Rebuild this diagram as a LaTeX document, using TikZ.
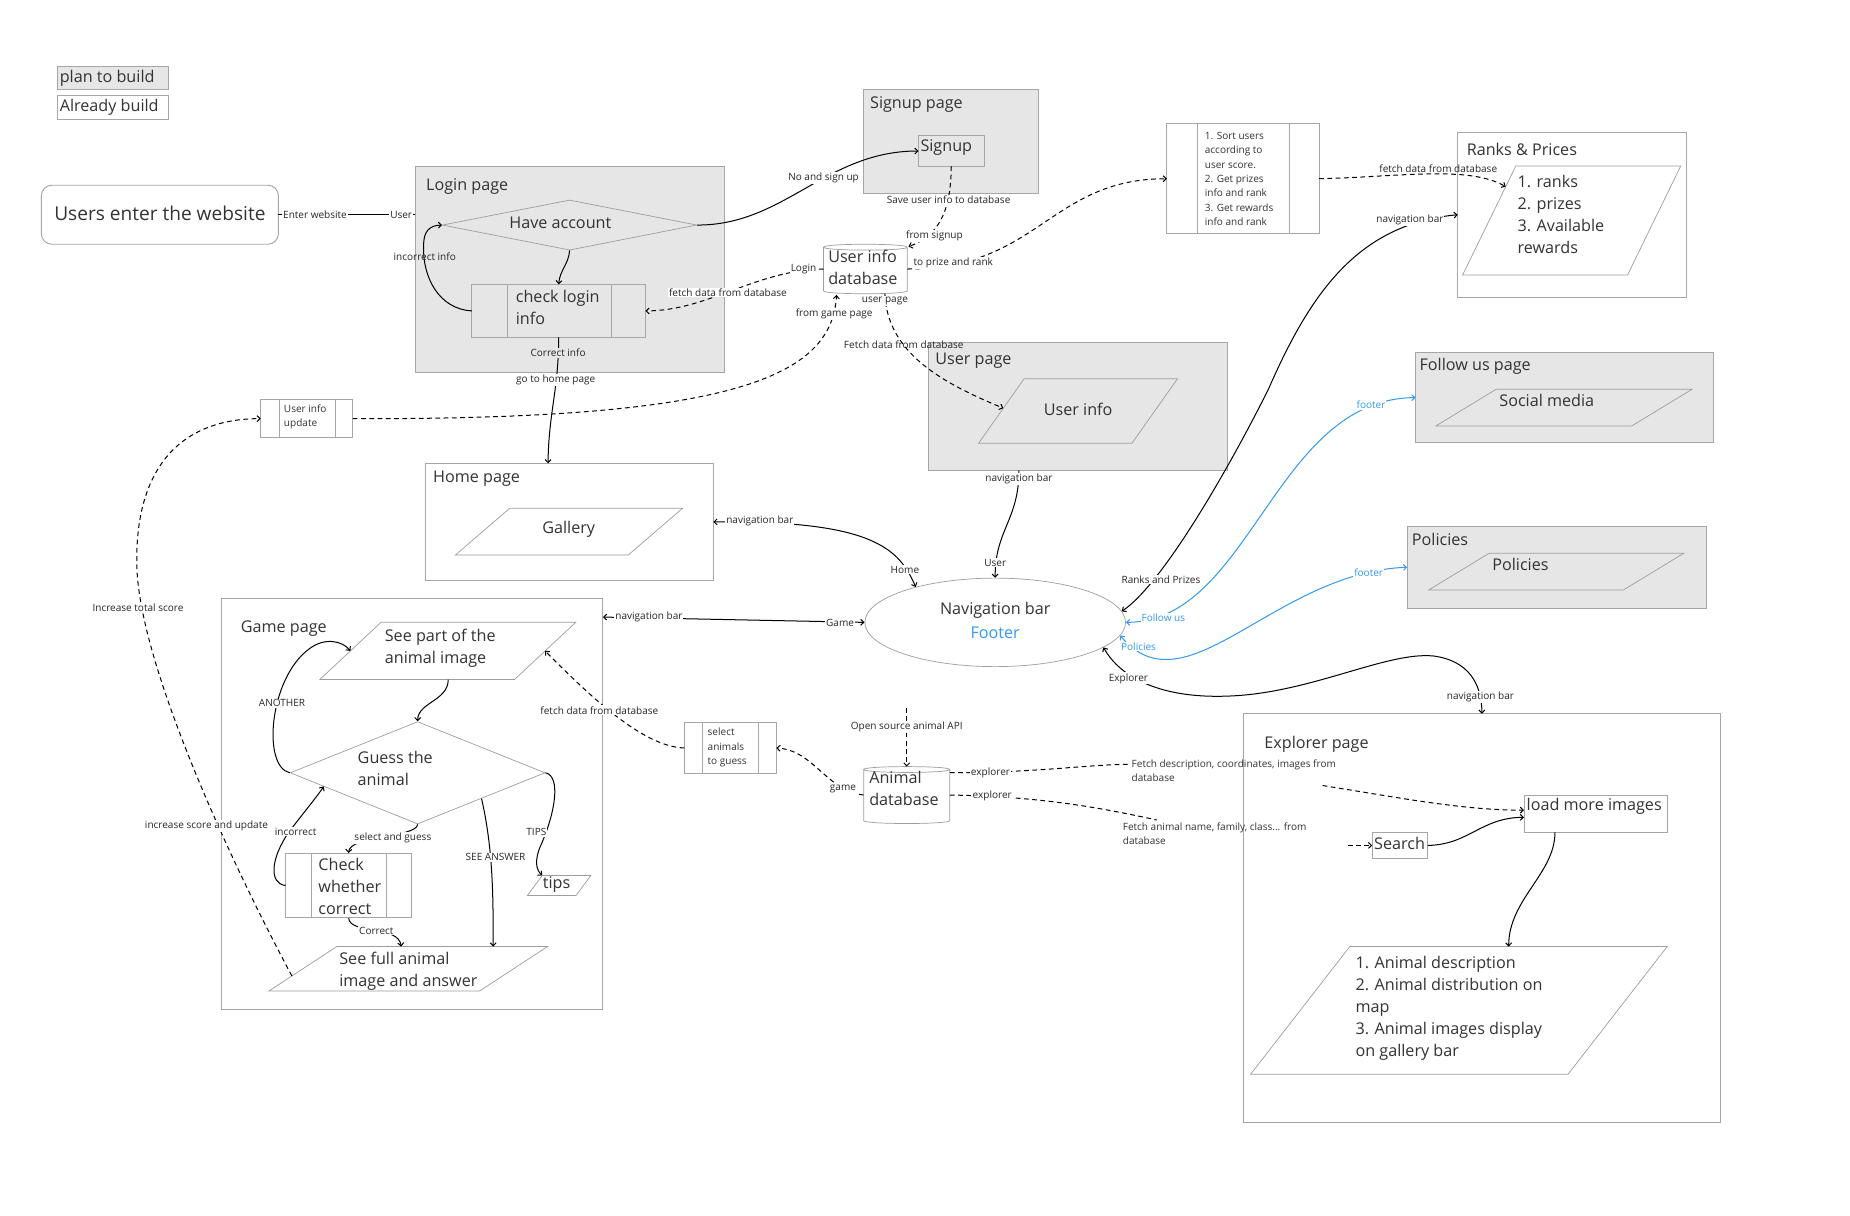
\documentclass[tikz,border=0pt]{standalone}
\usepackage{fontspec}
\setmainfont{Open Sans}
\usetikzlibrary{shapes.geometric,arrows.meta,calc}
\definecolor{pg}{HTML}{E6E6E6}
\definecolor{bd}{HTML}{A6A6A6}
\definecolor{sh}{HTML}{9E9E9E}
\definecolor{tx}{HTML}{333333}
\definecolor{ft}{HTML}{3399F3}
\tikzset{
 rbox/.style={draw=bd, line width=0.8pt, inner sep=0pt, outer sep=0pt, anchor=north west},
 pgbox/.style={rbox, fill=pg},
 wbox/.style={rbox, fill=white},
 shp/.style={draw=sh, line width=0.6pt},
 big/.style={font=\fontsize{13.7}{18.7}\selectfont, text=tx, inner sep=0pt, align=left},
 small/.style={font=\fontsize{8.5}{12.2}\selectfont, text=tx, inner sep=0pt, align=left},
 lbl/.style={font=\fontsize{8.5}{11}\selectfont, text=black!85, inner sep=0.8pt, fill=white},
 conn/.style={line width=0.85pt, draw=black},
 arr/.style={conn, -{Straight Barb[length=2.6pt,width=5pt]}},
 barr/.style={conn, {Straight Barb[length=2.6pt,width=5pt]}-{Straight Barb[length=2.6pt,width=5pt]}},
 dsh/.style={dash pattern=on 4pt off 3pt},
 darr/.style={arr, dsh},
}
\newcommand\mkrect[6]{\node[#2, minimum width={(#5-#3)*1pt}, minimum height={(#6-#4)*1pt}] (#1) at (#3,#4) {};}
\newcommand\mkproc[8]{\mkrect{#1}{#2}{#3}{#4}{#5}{#6}\draw[draw=bd,line width=0.8pt] (#7,#4) -- (#7,#6) (#8,#4) -- (#8,#6);}
\newcommand\mkcyl[5]{\node[inner sep=0pt, outer sep=0pt, minimum width={(#4-#2)*1pt}, minimum height={(#5-#3)*1pt}, anchor=north west] (#1) at (#2,#3) {};
 \draw[shp, fill=white] (#2,#3+2.5) -- (#2,#5-2.5) .. controls (#2,#5+0.8) and (#4,#5+0.8) .. (#4,#5-2.5) -- (#4,#3+2.5) .. controls (#4,#3-0.8) and (#2,#3-0.8) .. (#2,#3+2.5) .. controls (#2,#3+5.8) and (#4,#3+5.8) .. (#4,#3+2.5);}
\newcommand\mkpara[7]{\coordinate (#1-tl) at (#2,#4); \coordinate (#1-tr) at (#3,#4);
 \coordinate (#1-bl) at (#5,#6); \coordinate (#1-br) at (#5+#3-#2,#6);
 \draw[shp, fill=#7] (#1-tl) -- (#1-tr) -- (#1-br) -- (#1-bl) -- cycle;}
\begin{document}
\begin{tikzpicture}[x=1pt,y=-1pt]
\useasboundingbox (0,0) rectangle (1568,1030);
\fill[white] (0,0) rectangle (1568,1030);

% ---------- containers ----------
\mkrect{plan}{pgbox}{49}{56}{143}{76}
\mkrect{already}{wbox}{49}{81}{143}{101}
\mkrect{users}{wbox,rounded corners=9pt}{35}{157}{236}{207}
\mkrect{login}{pgbox}{352}{141}{614}{316}
\mkrect{signup}{pgbox}{732}{76}{880}{164}
\mkrect{sgn}{pgbox}{778.5}{115}{834}{141}
\mkproc{sort}{wbox}{989}{105}{1118}{198}{1015}{1092.5}
\mkrect{ranks}{wbox}{1235.5}{112}{1429}{252}
\mkrect{userpage}{pgbox}{787}{290}{1040}{398.6}
\mkrect{follow}{pgbox}{1199.7}{299}{1452.6}{375}
\mkrect{policies}{pgbox}{1192.6}{445.8}{1446}{515.8}
\mkrect{home}{wbox}{361}{392.7}{604.6}{492}
\mkproc{uiupd}{wbox}{221}{339}{299}{370.6}{236.5}{284}
\mkrect{game}{wbox}{187.6}{507}{511}{855.4}
\mkrect{explorer}{wbox}{1054}{605}{1458}{951}

% ---------- inner shapes ----------
\node[diamond, shp, fill=pg, minimum width=215.6pt, minimum height=42.5pt, inner sep=0pt] (hav) at (482.8,190.75) {};
\mkproc{chk}{pgbox}{400}{241}{547}{286}{430}{518}
\mkcyl{udb}{698}{207}{769}{249}
\mkpara{ranksP}{1284.7}{1424.5}{140.7}{1239.7}{233}{white}
\mkpara{userP}{868}{998}{321}{829.4}{375.7}{pg}
\mkpara{followP}{1268}{1434}{330}{1217}{361}{pg}
\mkpara{policiesP}{1262}{1427}{469}{1211}{500}{pg}
\mkpara{galleryP}{432}{578.5}{430.8}{386}{470.4}{white}
\node[ellipse, shp, fill=white, minimum width=221pt, minimum height=75pt, inner sep=0pt] (nav) at (843.5,527.5) {};
\mkpara{seeP}{323}{488}{527.4}{271}{576}{white}
\node[diamond, shp, fill=white, minimum width=216pt, minimum height=86.8pt, inner sep=0pt] (guess) at (354,655) {};
\mkproc{checkwc}{wbox}{242}{723}{349}{778}{264}{327.6}
\mkpara{tipsP}{459.6}{500.8}{742}{447}{759}{white}
\mkpara{fullP}{285.4}{464}{802.3}{227.8}{840}{white}
\mkproc{select}{wbox}{580}{612.5}{658}{655.4}{595.6}{643}
\mkcyl{adb}{732}{649.7}{805}{698}
\mkrect{loadmore}{wbox}{1291.7}{674.6}{1413}{705.4}
\mkrect{search}{wbox}{1163}{705.7}{1210}{727.4}
\mkpara{descP}{1144}{1413}{802.3}{1060}{910.5}{white}

% ---------- texts ----------
\node[big, anchor=west] (tplan) at (50.5,66) {plan to build};
\node[big, anchor=west] (tall) at (50.5,91) {Already build};
\node[font=\fontsize{16.2}{20}\selectfont, text=tx, inner sep=0pt] (tusers) at (135.5,181) {Users enter the website};
\node[big, anchor=west] (tlogin) at (361,158) {Login page};
\node[big, anchor=west] (thav) at (431.5,189) {Have account};
\node[big, anchor=north west] (tchk) at (437,245.5) {check login\\info};
\node[big, anchor=west] (tsignup) at (737.3,88.4) {Signup page};
\node[big, anchor=west] (tsgn) at (780,125) {Signup};
\node[big, anchor=north west] (tudb) at (701.8,212) {User info\\database};
\node[small, anchor=north west] (tsort) at (1021,111.7) {1. Sort users\\according to\\user score.\\2. Get prizes\\info and rank\\3. Get rewards\\info and rank};
\node[big, anchor=west] (tranks) at (1243,127) {Ranks \& Prices};
\node[big, anchor=north west] (tranksP) at (1286,148.5) {1. ranks\\2. prizes\\3. Available\\rewards};
\node[big, anchor=west] (tuserpage) at (792.6,306) {User page};
\node[big] (tuserP) at (913.8,347) {User info};
\node[big, anchor=west] (tfollow) at (1203,310.7) {Follow us page};
\node[big] (tfollowP) at (1311,339) {Social media};
\node[big, anchor=west] (tpolicies) at (1196.5,457) {Policies};
\node[big] (tpoliciesP) at (1288.7,478) {Policies};
\node[big, anchor=west] (thome) at (367,406) {Home page};
\node[big] (tgallery) at (482,449) {Gallery};
\node[small, anchor=north west] (tuiupd) at (240.5,342.7) {User info\\update};
\node[big] (tnav) at (843.5,517) {Navigation bar};
\node[big, text=ft] (tfooter) at (843.5,536) {Footer};
\node[big, anchor=west] (tgame) at (204,533) {Game page};
\node[big, anchor=north west] (tseeP) at (326,533) {See part of the\\animal image};
\node[big, anchor=north west] (tguess) at (303,636.5) {Guess the\\animal};
\node[big, anchor=north west] (tcheckwc) at (269.7,727.5) {Check\\whether\\correct};
\node[big] (ttips) at (471.7,749.5) {tips};
\node[big, anchor=north west] (tfullP) at (287.4,806.5) {See full animal\\image and answer};
\node[small, anchor=north west] (tselect) at (599.6,617.1) {select\\animals\\to guess};
\node[big, anchor=north west] (tadb) at (736.6,653.5) {Animal\\database};
\node[big, anchor=west] (texplorer) at (1071.5,631) {Explorer page};
\node[big, anchor=west] (tloadmore) at (1293.8,683.5) {load more images};
\node[big, anchor=west] (tsearch) at (1164.5,715) {Search};
\node[big, anchor=north west] (tdescP) at (1148.7,810.1) {1. Animal description\\2. Animal distribution on\\map\\3. Animal images display\\on gallery bar};
\node[small, anchor=north west] (fd1) at (959,643.8) {Fetch description, coordinates, images from\\database};
\node[small, anchor=north west] (fd2) at (951.5,697) {Fetch animal name, family, class... from\\database};

% ---------- connectors ----------
\draw[conn] (users.east) -- ($(login.north west)+(0,41)$);
\draw[arr] (hav.south) .. controls +(-1,12) and +(1,-12) .. (chk.north);
\draw[arr] (chk.west) .. controls (372,262) and (358,235) .. (359,208) .. controls (359,196) and (364,191) .. (hav.west);
\draw[arr] (chk.south) .. controls (473.5,330) and (465,350) .. ($(home.north)+(-18.3,0)$);
\draw[arr] (hav.east) .. controls (665,191) and (700,128) .. (sgn.west);
\draw[darr] (sgn.south) .. controls (806,180) and (795,200) .. ($(udb.north east)+(1,2)$);
\draw[darr] (udb.west) .. controls (640,229) and (600,263.5) .. (chk.east);
\draw[darr] (udb.east) .. controls (880,228) and (890,151.5) .. (sort.west);
\draw[darr] ($(udb.south)+(16.5,0)$) .. controls (752,300) and (800,325) .. ($(userP-tl)!0.457!(userP-bl)$);
\draw[darr] (uiupd.east) .. controls (620,356) and (705,320) .. ($(udb.south)+(-24.5,1)$);
\draw[darr] (sort.east) .. controls (1185,150) and (1245,140) .. ($(ranksP-tl)!0.19!(ranksP-bl)$);
\draw[barr] (nav.5) .. controls (985,495) and (1040,400) .. (1075,330) .. controls (1110,250) and (1150,190) .. (ranks.west);
\draw[barr, draw=ft] (nav.east) .. controls (1060,527) and (1080,338) .. (follow.west);
\draw[barr, draw=ft] (nav.-6) .. controls (1005,605) and (1080,485) .. (policies.west);
\draw[barr] (nav.-13) .. controls (950,575) and (985,592) .. (1040,590) .. controls (1110,588) and (1175,552) .. (1215,556) .. controls (1245,560) and (1256,580) .. (explorer.north);
\draw[arr] ($(userpage.south)+(-50,0)$) .. controls (864,440) and (843,450) .. (nav.north);
\draw[barr] (home.east) .. controls (740,441) and (762,465) .. (nav.156);
\draw[barr] ($(game.north east)+(0,16)$) -- (nav.west);
\draw[arr] ($(seeP-bl)!0.66!(seeP-br)$) .. controls +(0,18) and +(0,-16) .. (guess.north);
\draw[arr] (guess.west) .. controls (222,650) and (228,575) .. (262,550) .. controls (275,540) and (290,543) .. ($(seeP-tl)!0.5!(seeP-bl)$);
\draw[arr] (checkwc.west) .. controls (228,749) and (229,728) .. (245,705) .. controls (258,688) and (268,676) .. ($(guess.west)!0.265!(guess.south)$);
\draw[arr] (guess.south) .. controls (353,710) and (296,708) .. (checkwc.north);
\draw[arr] (checkwc.south) .. controls (296,792) and (338,784) .. ($(fullP-tl)+(54.6,0)$);
\draw[arr] ($(guess.east)!0.5!(guess.south)$) .. controls (418,720) and (418,760) .. ($(fullP-tl)+(132.6,0)$);
\draw[arr] (guess.east) .. controls (476,658) and (470,690) .. (459,715) .. controls (452,730) and (455,738) .. (tipsP-tl);
\draw[darr] ($(fullP-tl)!0.66!(fullP-bl)$) .. controls (190,720) and (118,560) .. (116,480) .. controls (114,400) and (150,355) .. (uiupd.west);
\draw[darr] (select.west) .. controls (545,633) and (500,590) .. ($(seeP-tr)!0.5!(seeP-br)$);
\draw[darr] (adb.west) .. controls (700,670) and (690,636) .. (select.east);
\coordinate (apiSrc) at (768.5,600);
\draw[darr] (apiSrc) -- (adb.north);
\draw[conn, dsh] ($(adb.east)+(0,-19)$) .. controls (880,655) and (920,648) .. ($(fd1.north west)+(-2,4)$);
\draw[darr] ($(fd1.north west)+(162,22)$) .. controls (1180,675) and (1240,687) .. ($(loadmore.west)+(0,-3.4)$);
\draw[conn, dsh] (adb.east) .. controls (880,675) and (930,684) .. ($(fd2.north west)+(29,-2)$);
\draw[darr] ($(search.west)+(-20.6,0)$) -- (search.west);
\draw[arr] (search.east) .. controls (1245,716) and (1255,693) .. ($(loadmore.west)+(0,2.7)$);
\draw[arr] ($(loadmore.south)+(-34.4,0)$) .. controls +(0,35) and +(0,-40) .. ($(descP-tl)+(134.7,0)$);

% ---------- connector labels ----------
\node[lbl] (lEnter) at (267,182) {Enter website};
\node[lbl] (lUser) at (340,182) {User};
\node[lbl, fill=none] (lInc) at (360,218) {incorrect info};
\node[lbl, fill=pg] (lCorr) at (473,299) {Correct info};
\node[lbl] (lGoHome) at (471,322) {go to home page};
\node[lbl] (lNoSign) at (698,151) {No and sign up};
\node[lbl] (lSave) at (804,169.5) {Save user info to database};
\node[lbl] (lFromS) at (792,200) {from signup};
\node[lbl] (lLogin) at (681,228) {Login};
\node[lbl] (lFetch1) at (617,248) {fetch data from database};
\node[lbl] (lPrize) at (808,223) {to prize and rank};
\node[lbl] (lUP) at (750,255) {user page};
\node[lbl] (lFromG) at (707,266) {from game page};
\node[lbl, fill=none] (lFetch2) at (766,292.5) {Fetch data from database};
\node[lbl, fill=none] (lFetch3) at (1219,143) {fetch data from database};
\node[lbl] (lNavR) at (1195,186.5) {navigation bar};
\node[lbl] (lRP) at (984,491) {Ranks and Prizes};
\node[lbl, text=ft] (lFol) at (986,523.5) {Follow us};
\node[lbl, text=ft] (lFoot1) at (1162,343) {footer};
\node[lbl, text=ft] (lPol) at (965,548) {Policies};
\node[lbl, text=ft] (lFoot2) at (1160,485) {footer};
\node[lbl] (lExp) at (956.4,575) {Explorer};
\node[lbl] (lNavE) at (1254.8,591) {navigation bar};
\node[lbl] (lNavU) at (863.6,406) {navigation bar};
\node[lbl] (lUsr) at (843.5,477) {User};
\node[lbl] (lNavH) at (644,441.5) {navigation bar};
\node[lbl] (lHome) at (767,483) {Home};
\node[lbl] (lNavG) at (550,523) {navigation bar};
\node[lbl] (lGame) at (712,527.7) {Game};
\node[lbl] (lAno) at (239,596) {ANOTHER};
\node[lbl] (lIncor) at (250.6,705) {incorrect};
\node[lbl] (lSel) at (333,710) {select and guess};
\node[lbl] (lCor) at (319,788.8) {Correct};
\node[lbl] (lSee) at (420,726.6) {SEE ANSWER};
\node[lbl] (lTips) at (454.6,705.4) {TIPS};
\node[lbl] (lIncS) at (175,700) {increase score and update};
\node[lbl] (lIncT) at (117,515) {Increase total score};
\node[lbl] (lFetch4) at (508,602) {fetch data from database};
\node[lbl] (lGameA) at (714.5,668.7) {game};
\node[lbl] (lApi) at (768.5,616) {Open source animal API};
\node[lbl] (lEx1) at (839.5,655) {explorer};
\node[lbl] (lEx2) at (841,674.6) {explorer};
\end{tikzpicture}
\end{document}
